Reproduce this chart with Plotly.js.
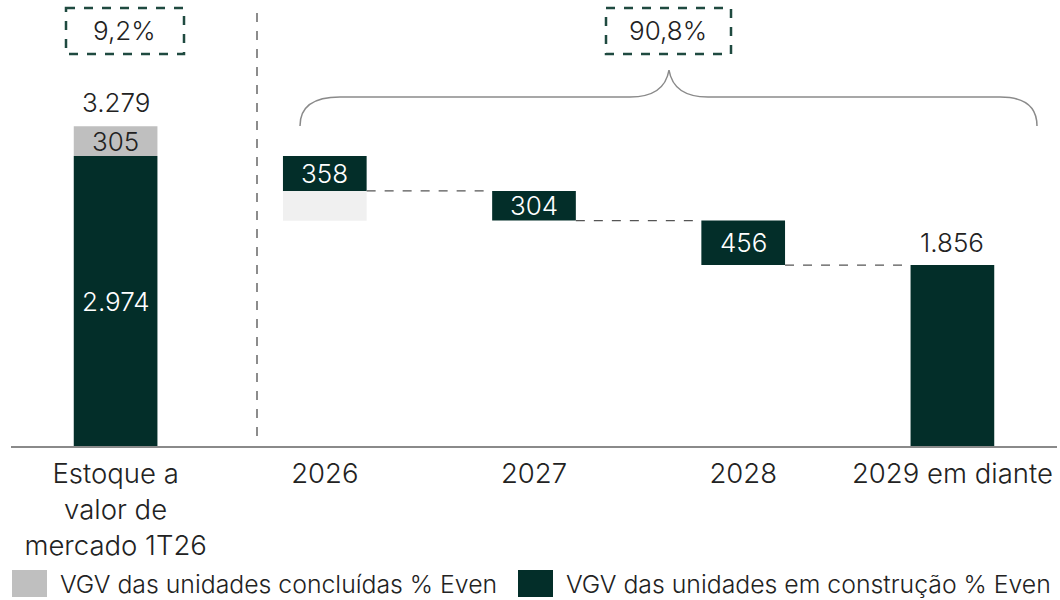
<!DOCTYPE html>
<html>
<head>
<meta charset="utf-8">
<script src="https://cdn.plot.ly/plotly-3.0.1.min.js"></script>
<style>html,body{margin:0;padding:0;background:#fff;}#chart{width:1060px;height:600px;}</style>
</head>
<body>
<div id="chart"></div>
<script>
// ---- data ----
const categories = ["Estoque a<br>valor de<br>mercado 1T26", "2026", "2027", "2028", "2029 em diante"];
const construcao = [2974, 358, 304, 456, 1856];      // VGV das unidades em construção % Even
const concluidasEstoque = [305];                      // VGV das unidades concluídas % Even (estoque)
const concluidas2026 = [305];                         // concluídas shown below 2026 (light)
const pctLabels = ["9,2%", "90,8%"];
const seriesNames = ["VGV das unidades concluídas % Even", "VGV das unidades em construção % Even"];

// ---- style ----
const DARK = "#032e29", GREY = "#bfbfbf", LIGHT = "#f0f0f0", LINEG = "#8a8a8a";
const FONT = "Inter";
const BW = 0.4;

function fmt(n){ return String(n).replace(/\B(?=(\d{3})+(?!\d))/g, "."); }

// waterfall bases
const bases = [0];
let running = construcao[0];
for (let i = 1; i < construcao.length; i++) { running -= construcao[i]; bases.push(running); }
const total = construcao[0] + concluidasEstoque[0];

const idx = categories.map((c, i) => i);

const traces = [
  { type: "bar", name: seriesNames[1], x: idx, y: construcao, base: bases, width: BW,
    marker: { color: DARK }, hoverinfo: "skip", showlegend: false },
  { type: "bar", name: seriesNames[0], x: [0], y: concluidasEstoque, base: [construcao[0]], width: BW,
    marker: { color: GREY }, hoverinfo: "skip", showlegend: false },
  { type: "bar", name: seriesNames[0] + " (2026)", x: [1], y: concluidas2026, base: [bases[1] - concluidas2026[0]], width: BW,
    marker: { color: LIGHT }, hoverinfo: "skip", showlegend: false }
];

// plot geometry helpers (paper coords)
const ML = 11, MR = 3, MT = 0, MB = 154, W = 1060, H = 600;
const PW = W - ML - MR, PH = H - MT - MB;
const px = x => (x - ML) / PW;
const py = y => (H - MB - y) / PH;

const TXT = "#222222";
const lab = { family: FONT, size: 26, color: TXT, weight: 300 };
const labW = Object.assign({}, lab, { color: "#ffffff" });
const legF = Object.assign({}, lab, { size: 24.8 });

const annotations = [];
function ann(o){ annotations.push(Object.assign({ showarrow: false, xanchor: "center", yanchor: "middle" }, o)); }
// total
ann({ x: 0, y: total, xref: "x", yref: "y", text: fmt(total), yanchor: "bottom", yshift: 6, font: lab });
ann({ x: 0, y: construcao[0] + concluidasEstoque[0] / 2, xref: "x", yref: "y", text: fmt(concluidasEstoque[0]), font: lab });
ann({ x: 0, y: construcao[0] / 2, xref: "x", yref: "y", text: fmt(construcao[0]), font: labW });
for (let i = 1; i < construcao.length; i++) {
  if (i === construcao.length - 1) {
    ann({ x: i, y: bases[i] + construcao[i], xref: "x", yref: "y", text: fmt(construcao[i]), yanchor: "bottom", yshift: 5, font: lab });
  } else {
    ann({ x: i, y: bases[i] + construcao[i] / 2, xref: "x", yref: "y", text: fmt(construcao[i]), font: labW });
  }
}
// percentage boxes
ann({ x: px(124.5), y: py(31), xref: "paper", yref: "paper", text: pctLabels[0], font: lab });
ann({ x: px(668), y: py(31), xref: "paper", yref: "paper", text: pctLabels[1], font: lab });
// custom legend text
ann({ x: px(58), y: py(584), xref: "paper", yref: "paper", xanchor: "left", text: seriesNames[0], font: legF });
ann({ x: px(564), y: py(584), xref: "paper", yref: "paper", xanchor: "left", text: seriesNames[1], font: legF });

const shapes = [];
// connectors
for (let i = 1; i < construcao.length - 1; i++) {
  shapes.push({ type: "line", xref: "x", yref: "y", x0: i + BW / 2, x1: i + 1 - BW / 2, y0: bases[i], y1: bases[i],
    line: { color: "#555555", width: 1.3, dash: "dash" } });
}
// divider
shapes.push({ type: "line", xref: "paper", yref: "paper", x0: px(257), x1: px(257), y0: py(13), y1: py(440),
  line: { color: "#8c8c8c", width: 2, dash: "dash" } });
// boxes
shapes.push({ type: "rect", xref: "paper", yref: "paper", x0: px(66), x1: px(184), y0: py(8), y1: py(54),
  line: { color: "#1f4a40", width: 2.5, dash: "dash" } });
shapes.push({ type: "rect", xref: "paper", yref: "paper", x0: px(606), x1: px(731), y0: py(8), y1: py(54),
  line: { color: "#1f4a40", width: 2.5, dash: "dash" } });
// brace
function P(x, y){ return px(x).toFixed(5) + "," + py(y).toFixed(5); }
const brace = "M" + P(300,126) + " C" + P(300,108) + " " + P(312,97) + " " + P(340,97) +
  " L" + P(630,97) + " C" + P(652,97) + " " + P(666,88) + " " + P(669,70) +
  " C" + P(672,88) + " " + P(686,97) + " " + P(708,97) +
  " L" + P(1000,97) + " C" + P(1026,97) + " " + P(1037,108) + " " + P(1037,126);
shapes.push({ type: "path", xref: "paper", yref: "paper", path: brace, line: { color: LINEG, width: 1.5 } });
// legend squares
shapes.push({ type: "rect", xref: "paper", yref: "paper", x0: px(12), x1: px(47), y0: py(570), y1: py(597), line: { width: 0 }, fillcolor: GREY });
shapes.push({ type: "rect", xref: "paper", yref: "paper", x0: px(518), x1: px(553), y0: py(570), y1: py(597), line: { width: 0 }, fillcolor: DARK });

const layout = {
  width: W, height: H,
  margin: { l: ML, r: MR, t: MT, b: MB, pad: 0 },
  paper_bgcolor: "#ffffff", plot_bgcolor: "#ffffff",
  barmode: "overlay",
  showlegend: false,
  font: { family: FONT, color: TXT, weight: 300 },
  xaxis: { type: "linear", range: [-0.5, 4.5], tickvals: idx, ticktext: categories, showgrid: false, zeroline: false,
    showline: true, linecolor: LINEG, linewidth: 2, ticks: "", ticklabelstandoff: 2,
    tickfont: { family: FONT, size: 27.5, color: TXT, weight: 300 }, fixedrange: true },
  yaxis: { range: [0, 4574], visible: false, fixedrange: true },
  annotations: annotations,
  shapes: shapes
};

Plotly.newPlot("chart", traces, layout, { displayModeBar: false, staticPlot: true });
</script>
</body>
</html>
